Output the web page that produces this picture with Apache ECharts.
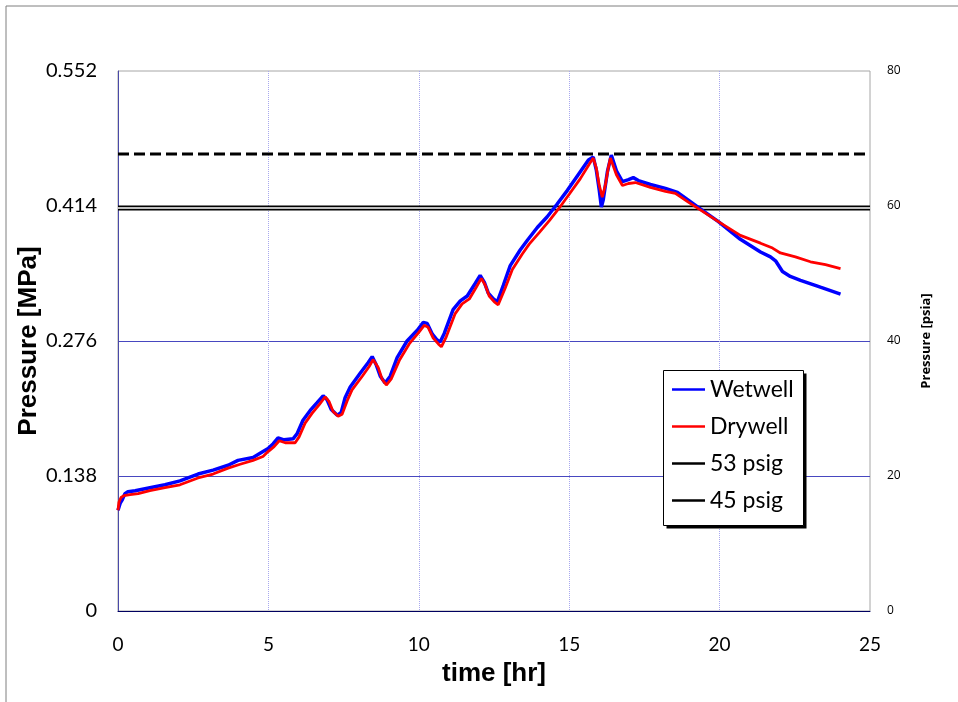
<!DOCTYPE html>
<html><head><meta charset="utf-8">
<script src="https://cdn.jsdelivr.net/npm/echarts@6/dist/echarts.min.js"></script>
<style>html,body{margin:0;padding:0;background:#fff}#c{width:958px;height:702px}</style>
</head><body><div id="c"></div>
<script>
// Wetwell pressure [hr, MPa]
const wetwell = [
[0.00,0.103],[0.07,0.110],[0.13,0.113],[0.23,0.120],[0.33,0.122],[0.57,0.123],[1.06,0.126],[1.56,0.129],
[2.06,0.133],[2.66,0.140],[3.16,0.144],[3.66,0.149],[3.99,0.154],[4.49,0.157],[4.82,0.163],[4.99,0.166],
[5.16,0.171],[5.32,0.177],[5.52,0.175],[5.82,0.176],[5.95,0.181],[6.15,0.195],[6.39,0.205],[6.62,0.213],
[6.82,0.220],[6.95,0.216],[7.09,0.206],[7.29,0.200],[7.42,0.203],[7.55,0.218],[7.72,0.229],[8.05,0.243],
[8.32,0.254],[8.45,0.260],[8.58,0.252],[8.72,0.240],[8.88,0.233],[9.05,0.240],[9.28,0.259],[9.61,0.276],
[9.95,0.287],[10.15,0.295],[10.28,0.294],[10.45,0.283],[10.61,0.277],[10.71,0.275],[10.85,0.284],[11.14,0.308],
[11.38,0.317],[11.61,0.322],[11.88,0.335],[12.04,0.343],[12.18,0.336],[12.31,0.325],[12.48,0.319],[12.61,0.316],
[12.81,0.333],[13.04,0.353],[13.37,0.369],[13.61,0.379],[13.94,0.392],[14.27,0.403],[14.60,0.416],[14.94,0.430],
[15.30,0.446],[15.64,0.461],[15.80,0.464],[15.90,0.451],[16.00,0.430],[16.07,0.413],[16.13,0.420],[16.27,0.449],
[16.40,0.466],[16.57,0.450],[16.77,0.439],[16.97,0.441],[17.13,0.443],[17.30,0.440],[17.70,0.436],[18.20,0.432],
[18.60,0.428],[18.96,0.420],[19.36,0.411],[19.96,0.398],[20.69,0.380],[21.36,0.367],[21.69,0.362],[21.86,0.358],
[22.09,0.347],[22.35,0.342],[22.69,0.338],[23.35,0.331],[24.02,0.324]
];
// Drywell pressure [hr, MPa]
const drywell = [
[0.00,0.103],[0.03,0.111],[0.10,0.116],[0.20,0.118],[0.40,0.119],[0.67,0.120],[1.06,0.123],[1.56,0.126],
[2.06,0.129],[2.66,0.136],[3.16,0.140],[3.66,0.146],[4.06,0.150],[4.49,0.154],[4.82,0.158],[4.99,0.163],
[5.19,0.168],[5.36,0.174],[5.56,0.172],[5.89,0.172],[6.02,0.178],[6.22,0.192],[6.45,0.202],[6.69,0.211],
[6.89,0.219],[7.02,0.214],[7.15,0.204],[7.32,0.199],[7.45,0.201],[7.62,0.215],[7.78,0.226],[8.12,0.240],
[8.35,0.250],[8.48,0.257],[8.65,0.249],[8.78,0.237],[8.92,0.231],[9.08,0.237],[9.35,0.256],[9.68,0.273],
[9.98,0.284],[10.18,0.292],[10.31,0.290],[10.48,0.279],[10.65,0.273],[10.75,0.270],[10.91,0.280],[11.21,0.304],
[11.44,0.314],[11.68,0.319],[11.91,0.331],[12.08,0.340],[12.21,0.333],[12.34,0.322],[12.51,0.316],[12.64,0.313],
[12.87,0.330],[13.11,0.349],[13.44,0.365],[13.67,0.375],[14.01,0.387],[14.34,0.399],[14.67,0.412],[15.00,0.426],
[15.37,0.442],[15.67,0.457],[15.80,0.463],[15.90,0.453],[16.00,0.435],[16.10,0.423],[16.20,0.435],[16.30,0.453],
[16.37,0.463],[16.57,0.446],[16.77,0.435],[16.97,0.437],[17.20,0.438],[17.70,0.433],[18.20,0.429],[18.53,0.427],
[18.96,0.418],[19.36,0.410],[19.96,0.398],[20.69,0.384],[21.36,0.376],[21.76,0.371],[22.02,0.366],[22.52,0.362],
[23.02,0.357],[23.52,0.354],[24.02,0.350]
];
// Reference limits, in psia (gauge + 14.7)
const limit53 = [[0,67.7],[25,67.7]];
const limit45 = [[0,59.7],[25,59.7]];
const xTicks = [0,5,10,15,20,25];
const mpaTicks = [0,0.138,0.276,0.414,0.552];
const psiaTicks = [0,20,40,60,80];

const chart = echarts.init(document.getElementById('c'));
const tickFont = 'Lato, "Open Sans", sans-serif';
const boldFont = '"Liberation Sans", Arial, sans-serif';
chart.setOption({
  animation:false,
  backgroundColor:'#fff',
  grid:{left:118,right:88,top:71,bottom:91,show:true,borderColor:'#a6a6a6',borderWidth:1,backgroundColor:'transparent'},
  graphic:[
    {type:'line',shape:{x1:6,y1:6,x2:958,y2:6},style:{stroke:'#7f7f7f',lineWidth:1}},
    {type:'line',shape:{x1:6,y1:6,x2:6,y2:702},style:{stroke:'#7f7f7f',lineWidth:1}},
    {type:'rect',z:10,shape:{x:666.5,y:373.5,width:140,height:155},style:{fill:'#000'}},
    {type:'rect',z:11,shape:{x:663.5,y:370.5,width:140,height:155},style:{fill:'#fff',stroke:'#000',lineWidth:1}}
  ],
  legend:{
    orient:'vertical',left:672,top:378,z:20,
    data:['Wetwell','Drywell','53 psig','45 psig'],
    icon:'rect',itemWidth:33,itemHeight:2.5,itemGap:14,
    textStyle:{fontFamily:tickFont,fontSize:23,color:'#000',lineHeight:23},
    padding:0
  },
  xAxis:{
    type:'value',min:0,max:25,interval:5,
    name:'time [hr]',nameLocation:'middle',nameGap:50,nameMoveOverlap:false,
    nameTextStyle:{fontFamily:boldFont,fontWeight:'bold',fontSize:26,color:'#000'},
    axisLine:{show:true,lineStyle:{color:'#000060',width:1}},
    axisTick:{show:false},
    axisLabel:{margin:24,fontFamily:tickFont,fontSize:19,color:'#000',formatter:v=>xTicks.includes(v)?String(v):''},
    splitLine:{show:true,showMinLine:false,showMaxLine:false,lineStyle:{color:'#a8a8ee',type:'dotted',width:1}}
  },
  yAxis:[{
    type:'value',min:0,max:0.552,interval:0.138,position:'left',
    name:'Pressure [MPa]',nameLocation:'middle',nameGap:76,nameMoveOverlap:false,
    nameTextStyle:{fontFamily:boldFont,fontWeight:'bold',fontSize:26,color:'#000'},
    axisLine:{show:true,lineStyle:{color:'#4a4aa8',width:1}},
    axisTick:{show:false},
    axisLabel:{margin:21,fontFamily:tickFont,fontSize:20,color:'#000',
      formatter:v=>{const t=mpaTicks.find(m=>Math.abs(m-v)<1e-6);return t===undefined?'':(t===0?'0':t.toFixed(3));}},
    splitLine:{show:true,showMinLine:false,showMaxLine:false,lineStyle:{color:'#4848c0',width:1}}
  },{
    type:'value',min:0,max:80,interval:20,position:'right',
    name:'Pressure [psia]',nameLocation:'middle',nameGap:50,nameRotate:90,nameMoveOverlap:false,
    nameTextStyle:{fontFamily:'"Open Sans", sans-serif',fontWeight:'bold',fontSize:13,color:'#000'},
    axisLine:{show:false},axisTick:{show:false},
    axisLabel:{margin:17,fontFamily:'"Open Sans", sans-serif',fontSize:12,color:'#000',
      formatter:v=>psiaTicks.includes(v)?String(v):''},
    splitLine:{show:false}
  }],
  series:[
    {name:'53 psig',type:'line',yAxisIndex:1,data:limit53,showSymbol:false,symbol:'none',
     lineStyle:{color:'#000',width:3,type:[11,5]},itemStyle:{color:'#000'},z:3},
    {name:'45 psig',type:'line',yAxisIndex:1,data:limit45,showSymbol:false,symbol:'none',
     lineStyle:{color:'#000',width:5},itemStyle:{color:'#000'},z:3},
    {name:'45 gap',type:'line',yAxisIndex:1,data:limit45,showSymbol:false,symbol:'none',
     lineStyle:{color:'#fff',width:1.6},itemStyle:{color:'#fff'},z:4,silent:true},
    {name:'Wetwell',type:'line',data:wetwell,showSymbol:false,symbol:'none',
     lineStyle:{color:'#0000ff',width:3.5},itemStyle:{color:'#0000ff'},z:5},
    {name:'Drywell',type:'line',data:drywell,showSymbol:false,symbol:'none',
     lineStyle:{color:'#ff0000',width:2.8},itemStyle:{color:'#ff0000'},z:6}
  ]
});
</script></body></html>
